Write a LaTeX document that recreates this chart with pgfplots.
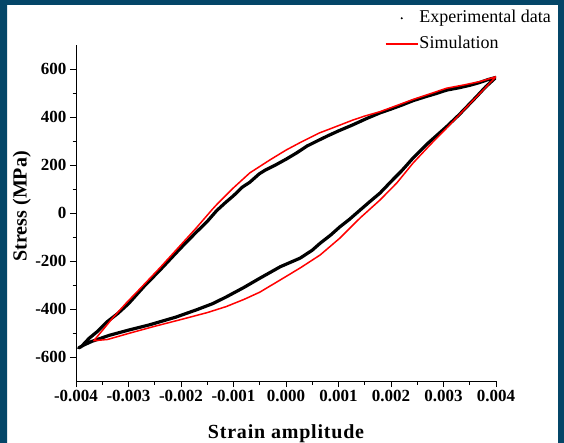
\documentclass[border=0pt]{standalone}
\usepackage{pgfplots}
\pgfplotsset{compat=1.18}
\usepackage{fontspec}
\setmainfont{Liberation Serif}
\definecolor{framecol}{RGB}{4,70,104}
\begin{document}
\begin{tikzpicture}[x=1pt,y=1pt]
\fill[white] (0,0) rectangle (564,442);
\begin{axis}[
  at={(76pt,61pt)}, anchor=south west,
  scale only axis, width=420pt, height=336pt,
  xmin=-0.004, xmax=0.004, ymin=-700, ymax=700,
  scaled x ticks=false,
  axis x line*=bottom, axis y line*=left,
  axis line style={line width=0.9pt},
  xtick={-0.004,-0.003,-0.002,-0.001,0,0.001,0.002,0.003,0.004},
  xticklabels={-0.004,-0.003,-0.002,-0.001,0.000,0.001,0.002,0.003,0.004},
  ytick={-600,-400,-200,0,200,400,600},
  yticklabels={-600,-400,-200,0,200,400,600},
  minor x tick num=1, minor y tick num=1,
  tick align=outside,
  major tick length=6pt, minor tick length=3.5pt,
  tick style={line width=0.9pt, black},
  ticklabel style={font=\fontsize{17}{17}\selectfont\bfseries},
  xlabel={\addfontfeatures{LetterSpace=4}Strain amplitude},
  ylabel={Stress (MPa)},
  label style={font=\fontsize{20}{20}\selectfont\bfseries},
  xlabel style={at={(axis description cs:0.5,-0.158)}, anchor=center},
  ylabel style={at={(axis description cs:-0.129,0.52)}, anchor=center},
  legend style={at={(axis description cs:0.7357,1.107)}, anchor=north west,
    draw=none, fill=none, inner sep=0pt, outer sep=0pt,
    font=\fontsize{18}{18}\selectfont, row sep=7pt,
    nodes={inner sep=1pt, text height=12.5pt, text depth=4pt}},
  legend cell align=left,
]
\addplot[black, line width=3.2pt, line join=round, line cap=round,
  legend image code/.code={\fill[black, draw=none] (16pt,0pt) circle (1.1pt); \path[draw=none] (0pt,0pt) -- (32pt,0pt);}]
coordinates {
(0.00400,565) (0.00385,556) (0.00368,543) (0.00350,532) (0.00330,522)
(0.00306,512) (0.00285,497) (0.00265,484) (0.00242,468) (0.00220,449)
(0.00200,433) (0.00179,417) (0.00155,395) (0.00127,367) (0.00100,342)
(0.00080,322) (0.00063,304) (0.00040,279) (0.00020,250) (0.00000,224)
(-0.00020,200) (-0.00040,178) (-0.00051,163) (-0.00069,128) (-0.00083,108)
(-0.00100,72) (-0.00115,44) (-0.00132,10) (-0.00150,-35) (-0.00170,-78)
(-0.00190,-122) (-0.00210,-168) (-0.00240,-238) (-0.00270,-305) (-0.00300,-378)
(-0.00320,-418) (-0.00340,-452) (-0.00360,-495) (-0.00375,-522) (-0.00390,-557)
(-0.00395,-562) (-0.00385,-550) (-0.00370,-535) (-0.00337,-510) (-0.00300,-488)
(-0.00260,-466) (-0.00210,-434) (-0.00170,-403) (-0.00140,-378) (-0.00114,-350)
(-0.00080,-310) (-0.00050,-272) (-0.00011,-224) (0.00027,-188) (0.00050,-155)
(0.00065,-126) (0.00085,-92) (0.00103,-57) (0.00120,-28) (0.00141,12)
(0.00160,48) (0.00179,83) (0.00204,140) (0.00220,175) (0.00242,229)
(0.00270,290) (0.00306,360) (0.00330,410) (0.00363,485) (0.00380,525)
(0.00400,565)
};
\addlegendentry{Experimental data}
\addplot[red, line width=1.5pt, line join=round,
  legend image code/.code={\draw[red, line width=1.5pt] (0pt,0pt) -- (32pt,0pt);}]
coordinates {
(0.00400,568) (0.00370,548) (0.00340,534) (0.00306,520) (0.00275,497)
(0.00242,473) (0.00210,447) (0.00179,422) (0.00150,404) (0.00127,387)
(0.00100,364) (0.00063,333) (0.00030,297) (0.00000,262) (-0.00030,222)
(-0.00069,167) (-0.00100,105) (-0.00132,35) (-0.00140,16) (-0.00170,-60)
(-0.00200,-132) (-0.00240,-228) (-0.00280,-320) (-0.00303,-372) (-0.00330,-437)
(-0.00350,-490) (-0.00366,-532)
(-0.00340,-527) (-0.00300,-502) (-0.00250,-472) (-0.00202,-445) (-0.00150,-415)
(-0.00114,-390) (-0.00080,-360) (-0.00050,-330) (-0.00011,-279) (0.00027,-229)
(0.00065,-175) (0.00103,-104) (0.00141,-21) (0.00179,54) (0.00211,125)
(0.00242,208) (0.00275,285) (0.00306,354) (0.00340,432) (0.00370,500)
(0.00400,568)
};
\addlegendentry{Simulation}
\end{axis}
\fill[framecol, even odd rule] (-5,-5) rectangle (569,447) (7,-10) rectangle (558,437);
\pgfresetboundingbox
\useasboundingbox (0,0) rectangle (564,442);
\end{tikzpicture}
\end{document}
